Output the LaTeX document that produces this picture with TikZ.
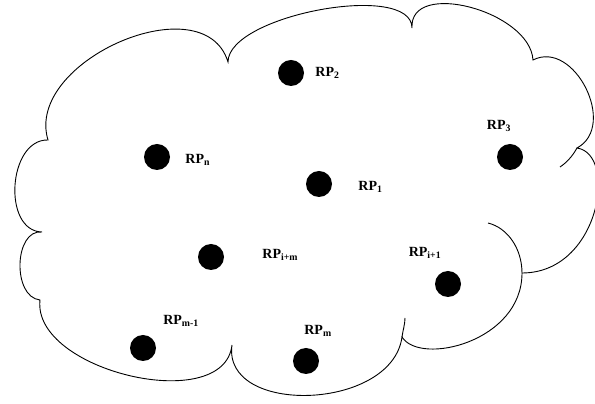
\documentclass[tikz,border=0pt]{standalone}
\usepackage{fontspec}
\setmainfont{Liberation Serif}
\usepackage{tikz}
\usetikzlibrary{positioning}

\begin{document}
\begin{tikzpicture}[x=1pt, y=1pt,
    rp/.style={circle, fill=black, inner sep=0pt, minimum size=26pt},
    lbl/.style={font=\fontsize{14}{16}\selectfont\bfseries, inner sep=1pt},
    edge/.style={line width=0.9pt}]
    \useasboundingbox (0,0) rectangle (595,404);
    % Cloud outline
    \draw[edge] (42,172) .. controls (2,173) and (8,265) .. (48,264)
        .. controls (24,343) and (204,421) .. (228,342)
        .. controls (228,389) and (412,423) .. (412,376)
        .. controls (409,425) and (530,393) .. (533,344)
        .. controls (574,365) and (618,278) .. (577,256)
        .. controls (618,250) and (600,131) .. (522,131)
        .. controls (522,62) and (420,38) .. (402,67)
        .. controls (392,-7) and (222,-12) .. (232,59)
        .. controls (224,-12) and (32,33) .. (40,104)
        .. controls (12,107) and (14,175) .. cycle;
    % Inner ends of the lobes
    \draw[edge] (577,256) .. controls (572,247) and (566,241) .. (560,237);
    \draw[edge] (488,181) .. controls (508,176) and (522,155) .. (522,131);
    \draw[edge] (402,67) .. controls (403,74) and (405,80) .. (405,86);

    % Reference points
    \node[rp] (p2) at (291,331) {};
    \node[rp] (p3) at (510,247) {};
    \node[rp] (pn) at (157,247) {};
    \node[rp] (p1) at (319,220) {};
    \node[rp] (pim) at (211,147) {};
    \node[rp] (pi1) at (448,120) {};
    \node[rp] (pm1) at (143,56) {};
    \node[rp] (pm) at (306,43) {};

    % Labels
    \node[lbl, right=10pt of p2] (l2) {RP\textsubscript{2}};
    \node[lbl, above=11pt of p3, xshift=-11pt] (l3) {RP\textsubscript{3}};
    \node[lbl, right=14pt of pn, yshift=-3pt] (ln) {RP\textsubscript{n}};
    \node[lbl, right=25pt of p1, yshift=-3pt] (l1) {RP\textsubscript{1}};
    \node[lbl, right=37pt of pim, yshift=2pt] (lim) {RP\textsubscript{i+m}};
    \node[lbl, above=11pt of pi1, xshift=-23pt] (li1) {RP\textsubscript{i+1}};
    \node[lbl, above=7pt of pm1, xshift=38pt] (lm1) {RP\textsubscript{m-1}};
    \node[lbl, above=10pt of pm, xshift=12pt] (lm) {RP\textsubscript{m}};
\end{tikzpicture}
\end{document}
